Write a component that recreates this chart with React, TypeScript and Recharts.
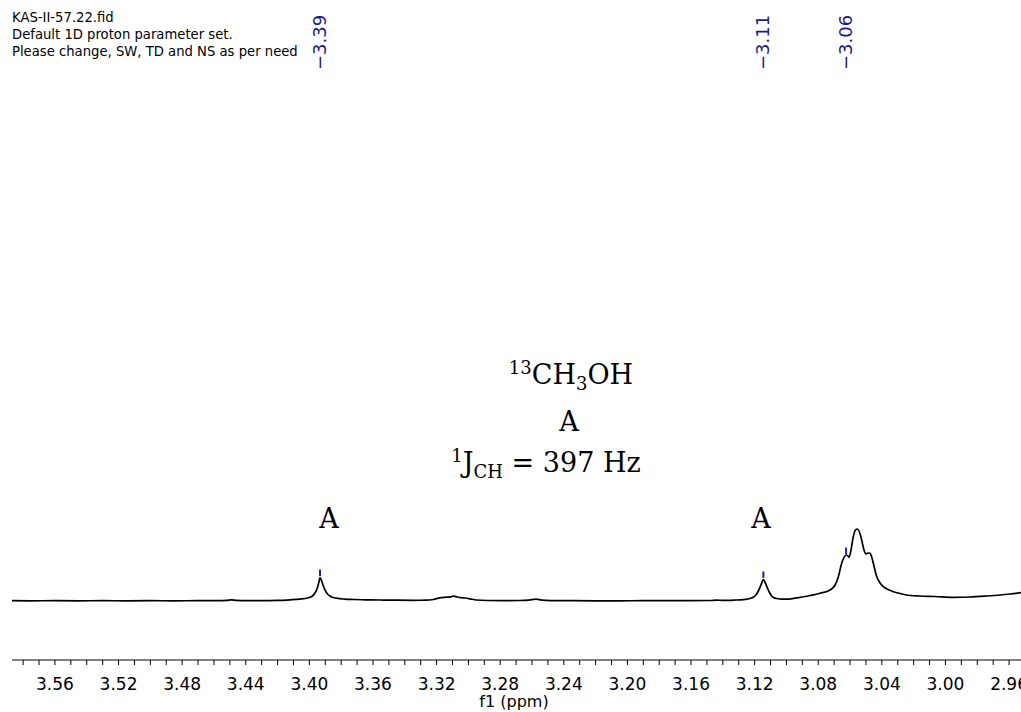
import React from "react";
import { ComposedChart, Line, Scatter, XAxis, YAxis } from "recharts";

// spectrum trace (ppm, relative intensity)
const ppm = [
  3.587, 3.575, 3.56, 3.545, 3.53, 3.515, 3.5, 3.485, 3.47, 3.458, 3.452, 3.449, 3.446, 3.44, 3.43, 3.42,
  3.412, 3.406, 3.401, 3.3985, 3.3965, 3.395, 3.394, 3.3933, 3.3925, 3.391, 3.3895, 3.388, 3.386, 3.383,
  3.378, 3.372, 3.365, 3.355, 3.345, 3.335, 3.327, 3.322, 3.318, 3.314, 3.311, 3.3095, 3.307, 3.305,
  3.302, 3.299, 3.295, 3.288, 3.278, 3.268, 3.262, 3.2575, 3.254, 3.248, 3.235, 3.22, 3.205, 3.19, 3.175,
  3.16, 3.148, 3.144, 3.14, 3.133, 3.127, 3.122, 3.1195, 3.1175, 3.116, 3.1145, 3.1135, 3.112, 3.1105,
  3.1085, 3.106, 3.103, 3.0998, 3.0955, 3.0914, 3.0851, 3.0789, 3.0726, 3.0694, 3.0674, 3.0652, 3.0632,
  3.0619, 3.0606, 3.0594, 3.058, 3.0566, 3.0554, 3.0541, 3.0527, 3.0514, 3.0501, 3.0487, 3.0474, 3.0464,
  3.0454, 3.0432, 3.0411, 3.0391, 3.0361, 3.0327, 3.0285, 3.0222, 3.016, 3.0065, 2.9952, 2.9845, 2.974,
  2.9657, 2.9594, 2.9525,
];
const intensity = [
  0.3, 0.2, 0.3, 0.2, 0.3, 0.2, 0.3, 0.2, 0.3, 0.3, 0.6, 1.1, 0.6, 0.3, 0.4, 0.6,
  1.2, 1.9, 3.0, 4.5, 8, 13, 19, 23.4, 21, 14, 9, 6, 4, 2.8,
  1.9, 1.5, 1.2, 1.0, 0.8, 0.7, 0.8, 1.5, 3.2, 3.8, 4.2, 4.8, 4.0, 3.3,
  3.0, 2.2, 1.0, 0.5, 0.4, 0.5, 0.9, 1.8, 0.9, 0.4, 0.3, 0.2, 0.2, 0.3, 0.3,
  0.4, 0.5, 0.9, 0.6, 0.9, 1.4, 3.0, 5.5, 10.5, 16, 21.5, 19, 13, 8,
  3.8, 2.5, 1.9, 1.9, 2.6, 3.7, 5.5, 7.7, 11, 16, 24, 38, 45,
  46, 43.7, 51, 64, 71, 72, 69, 61, 52, 47, 48, 47.7, 44,
  38, 24.3, 18, 14.3, 11.5, 9.3, 7.5, 5.5, 5, 4.5, 3.7, 4, 5,
  6, 7, 8.3,
];

// picked peaks
const peakPpm = [3.3933, 3.1145, 3.0625];
const peakTop = [23.4, 21.5, 45.5];
const peakLabels = ["3.39", "3.11", "3.06"];

const majorTicks = [3.56, 3.52, 3.48, 3.44, 3.4, 3.36, 3.32, 3.28, 3.24, 3.2, 3.16, 3.12, 3.08, 3.04, 3.0, 2.96];
const minorTicks = Array.from({ length: 63 }, (_, i) => Number((3.58 - i * 0.01).toFixed(2)));

const headerLines = [
  "KAS-II-57.22.fid",
  "Default 1D proton parameter set.",
  "Please change, SW, TD and NS as per need",
];

const data = ppm.map((p, i) => ({ ppm: p, intensity: intensity[i] }));
const peaks = peakPpm.map((p, i) => ({ ppm: p, intensity: peakTop[i] + 1.5, label: peakLabels[i] }));

const sans = "'DejaVu Sans', sans-serif";
const serif = "'DejaVu Serif', serif";

const AxisTick = (props: any) => {
  const { x, y, payload } = props;
  const v = payload.value;
  const major = majorTicks.some((t) => Math.abs(t - v) < 1e-6);
  return (
    <g>
      <line x1={x} x2={x} y1={y} y2={y + 5} stroke="#000" strokeWidth={1} />
      {major && (
        <text x={x} y={y + 30} textAnchor="middle" fontFamily={sans} fontSize={17} fill="#000">
          {v.toFixed(2)}
        </text>
      )}
    </g>
  );
};

const PeakMark = (props: any) => {
  const { cx, cy, payload } = props;
  return (
    <g>
      <line x1={cx} x2={cx} y1={cy} y2={cy - 6.5} stroke="#2020a0" strokeWidth={2} />
      <text
        x={cx + 6}
        y={70}
        transform={`rotate(-90, ${cx + 6}, 70)`}
        fontFamily={sans}
        fontSize={18}
        fill="#1a1a8c"
      >
        {"\u2212" + payload.label}
      </text>
    </g>
  );
};

export default function App() {
  return (
    <div style={{ position: "absolute", left: 0, top: 0, width: 1021, height: 712, background: "#fff" }}>
      <ComposedChart width={1021} height={712} data={data} margin={{ top: 80, right: 0, left: 12, bottom: 0 }}>
        <XAxis
          dataKey="ppm"
          type="number"
          domain={[2.9525, 3.587]}
          reversed
          ticks={minorTicks}
          interval={0}
          tick={<AxisTick />}
          tickLine={false}
          tickSize={0}
          tickMargin={0}
          height={52}
          axisLine={{ stroke: "#000", strokeWidth: 1 }}
        />
        <YAxis hide type="number" domain={[-59, 521]} />
        <Line
          dataKey="intensity"
          type="monotone"
          stroke="#000"
          strokeWidth={1.7}
          dot={false}
          isAnimationActive={false}
        />
        <Scatter data={peaks} dataKey="intensity" shape={<PeakMark />} isAnimationActive={false} />
      </ComposedChart>
      <svg
        width={1021}
        height={712}
        style={{ position: "absolute", left: 0, top: 0, pointerEvents: "none" }}
      >
        {headerLines.map((t, i) => (
          <text key={t} x={12} y={22 + i * 17} fontFamily={sans} fontSize={13.2} fill="#000">
            {t}
          </text>
        ))}
        <text x={571} y={384} textAnchor="middle" fontFamily={serif} fontSize={27} fill="#000">
          <tspan fontSize={18} dy={-10}>13</tspan>
          <tspan dy={10}>CH</tspan>
          <tspan fontSize={18} dy={6}>3</tspan>
          <tspan dy={-6}>OH</tspan>
        </text>
        <text x={569} y={431} textAnchor="middle" fontFamily={serif} fontSize={27} fill="#000">A</text>
        <text x={546} y={472} textAnchor="middle" fontFamily={serif} fontSize={27} fill="#000">
          <tspan fontSize={18} dy={-10}>1</tspan>
          <tspan dy={10}>J</tspan>
          <tspan fontSize={18} dy={6}>CH</tspan>
          <tspan dy={-6}> = 397 Hz</tspan>
        </text>
        <text x={329} y={528} textAnchor="middle" fontFamily={serif} fontSize={27} fill="#000">A</text>
        <text x={761} y={528} textAnchor="middle" fontFamily={serif} fontSize={27} fill="#000">A</text>
        <text x={514} y={707} textAnchor="middle" fontFamily={sans} fontSize={16} fill="#000">f1 (ppm)</text>
      </svg>
    </div>
  );
}
